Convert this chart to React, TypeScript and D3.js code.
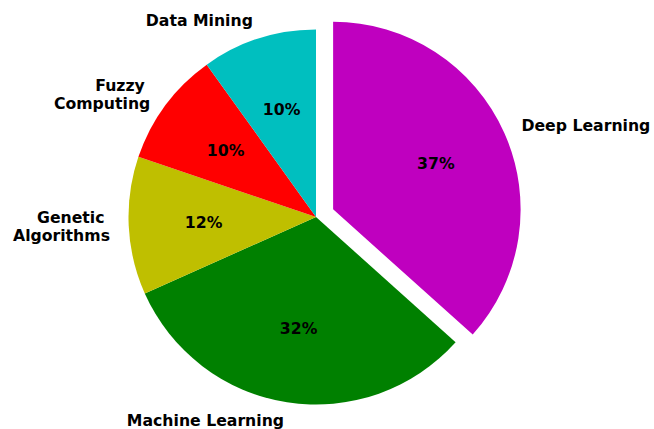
import React from "react";
import * as d3 from "d3";

const labels = ["Deep Learning", "Machine Learning", "Genetic \nAlgorithms", "Fuzzy \nComputing", "Data Mining"];
const values = [37, 32, 12, 10, 10];
const colors = ["#bf00bf", "#008000", "#bfbf00", "#ff0000", "#00bfbf"];
const explode = [0.1, 0, 0, 0, 0];

const W = 654;
const H = 429;
const cx = 316;
const cy = 217;
const R = 187.5;
const FONT = "DejaVu Sans";
const FS = 15.7;
const LH = 18.3;

export default function App() {
  const pie = d3.pie<number>().sort(null).startAngle(0).endAngle(2 * Math.PI);
  const arcs = pie(values);
  const arc = d3.arc<d3.PieArcDatum<number>>().innerRadius(0).outerRadius(R);
  const total = d3.sum(values);
  return (
    <svg width={W} height={H} style={{ position: "absolute", left: 0, top: 0, background: "#fff" }}>
      <g transform={`translate(${cx},${cy})`}>
        {arcs.map((a, i) => {
          const mid = (a.startAngle + a.endAngle) / 2;
          const off = explode[i] * R;
          const ox = Math.sin(mid) * off;
          const oy = -Math.cos(mid) * off;
          return (
            <path key={"p" + i} d={arc(a) || ""} fill={colors[i]} transform={`translate(${ox},${oy})`} />
          );
        })}
        {arcs.map((a, i) => {
          const mid = (a.startAngle + a.endAngle) / 2;
          const off = explode[i] * R;
          const ox = Math.sin(mid) * off;
          const oy = -Math.cos(mid) * off;
          const lx = ox + Math.sin(mid) * R * 1.1;
          const ly = oy - Math.cos(mid) * R * 1.1;
          const px = ox + Math.sin(mid) * R * 0.6;
          const py = oy - Math.cos(mid) * R * 0.6;
          const lines = labels[i].split("\n");
          const anchor = lx >= 0 ? "start" : "end";
          const y0 = ly - ((lines.length - 1) * LH) / 2;
          const pct = d3.format(".0f")((values[i] / total) * 100) + "%";
          return (
            <g key={"t" + i} fontFamily={FONT} fontSize={FS} fontWeight="bold" fill="#000">
              <text textAnchor={anchor} style={{ whiteSpace: "pre" }}>
                {lines.map((l, j) => (
                  <tspan key={j} x={lx} y={y0 + j * LH} dominantBaseline="central">
                    {l}
                  </tspan>
                ))}
              </text>
              <text x={px} y={py} textAnchor="middle" dominantBaseline="central">
                {pct}
              </text>
            </g>
          );
        })}
      </g>
    </svg>
  );
}
